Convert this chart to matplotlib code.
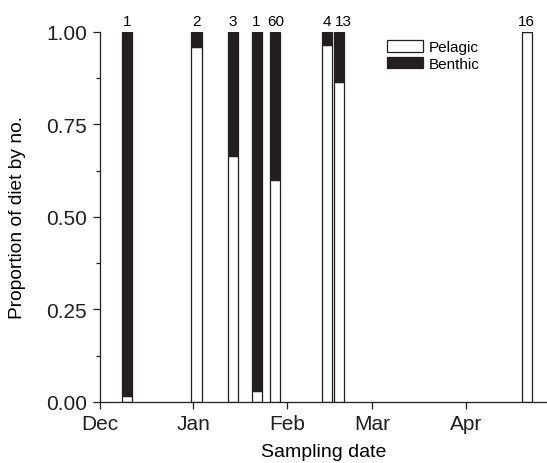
# diet composition (pelagic vs benthic) by sampling date

import matplotlib
matplotlib.use("Agg")
import matplotlib.pyplot as plt
import matplotlib.dates as mdates
from matplotlib.patches import Patch
from matplotlib.ticker import MultipleLocator
import datetime as dt

plt.rcParams['font.family'] = ['Liberation Sans', 'DejaVu Sans']

# data
sample_dates = ["2008-12-10", "2009-01-02", "2009-01-14", "2009-01-22",
                "2009-01-28", "2009-02-14", "2009-02-18", "2009-04-21"]
pelagic = [0.015, 0.96, 0.665, 0.03, 0.60, 0.965, 0.865, 1.0]
benthic = [1 - p for p in pelagic]
n_fish = ["1", "2", "3", "1", "60", "4", "13", "16"]

dates = [mdates.date2num(dt.datetime.strptime(d, "%Y-%m-%d")) for d in sample_dates]

fig = plt.figure(figsize=(5.47, 4.64), dpi=100)
ax = fig.add_axes([0.182, 0.1315, 0.818, 0.7974])

bar_w = 3.4
dark = '#231f20'

ax.bar(dates, pelagic, width=bar_w, color='white', edgecolor=dark, linewidth=0.9, label='Pelagic')
ax.bar(dates, benthic, width=bar_w, bottom=pelagic, color=dark, edgecolor=dark, linewidth=0.9, label='Benthic')

# sample sizes above bars (nudge the crowded ones apart a little)
nudge = [0, 0, 0, -0.5, 0.5, 0, 3, 0]
for x, n, dx in zip(dates, n_fish, nudge):
    ax.annotate(n, (x, 1.02), xytext=(dx, 0), textcoords='offset points',
                ha='center', va='baseline', fontsize=11, annotation_clip=False)

start = mdates.date2num(dt.datetime(2008, 12, 1))
ax.set_xlim(start, start + 147.7)
ax.set_ylim(0, 1)

ax.xaxis.set_major_locator(mdates.MonthLocator())
ax.xaxis.set_major_formatter(mdates.DateFormatter('%b'))
ax.yaxis.set_major_locator(MultipleLocator(0.25))
ax.yaxis.set_minor_locator(MultipleLocator(0.125))
ax.yaxis.set_major_formatter(plt.FormatStrFormatter('%.2f'))

ax.spines['top'].set_visible(False)
ax.spines['right'].set_visible(False)
for s in ['left', 'bottom']:
    ax.spines[s].set_linewidth(0.9)
    ax.spines[s].set_color(dark)

ax.tick_params(which='major', direction='out', length=5, width=0.9, labelsize=15, pad=4, colors=dark)
ax.tick_params(which='minor', direction='out', length=3, width=0.9, colors=dark)

ax.set_xlabel('Sampling date', fontsize=14)
ax.set_ylabel('Proportion of diet by no.', fontsize=13.8)
ax.xaxis.set_label_coords(0.5, -0.11)
ax.yaxis.set_label_coords(-0.164, 0.5)

handles = [Patch(facecolor='white', edgecolor=dark, linewidth=0.9),
           Patch(facecolor=dark, edgecolor=dark, linewidth=0.9)]
ax.legend(handles, ['Pelagic', 'Benthic'], loc='upper left', bbox_to_anchor=(0.642, 0.978),
          frameon=False, fontsize=11, handlelength=2.35, handleheight=0.8,
          handletextpad=0.4, labelspacing=0.15, borderaxespad=0, borderpad=0)

plt.savefig('out.png', dpi=100)
plt.close()
